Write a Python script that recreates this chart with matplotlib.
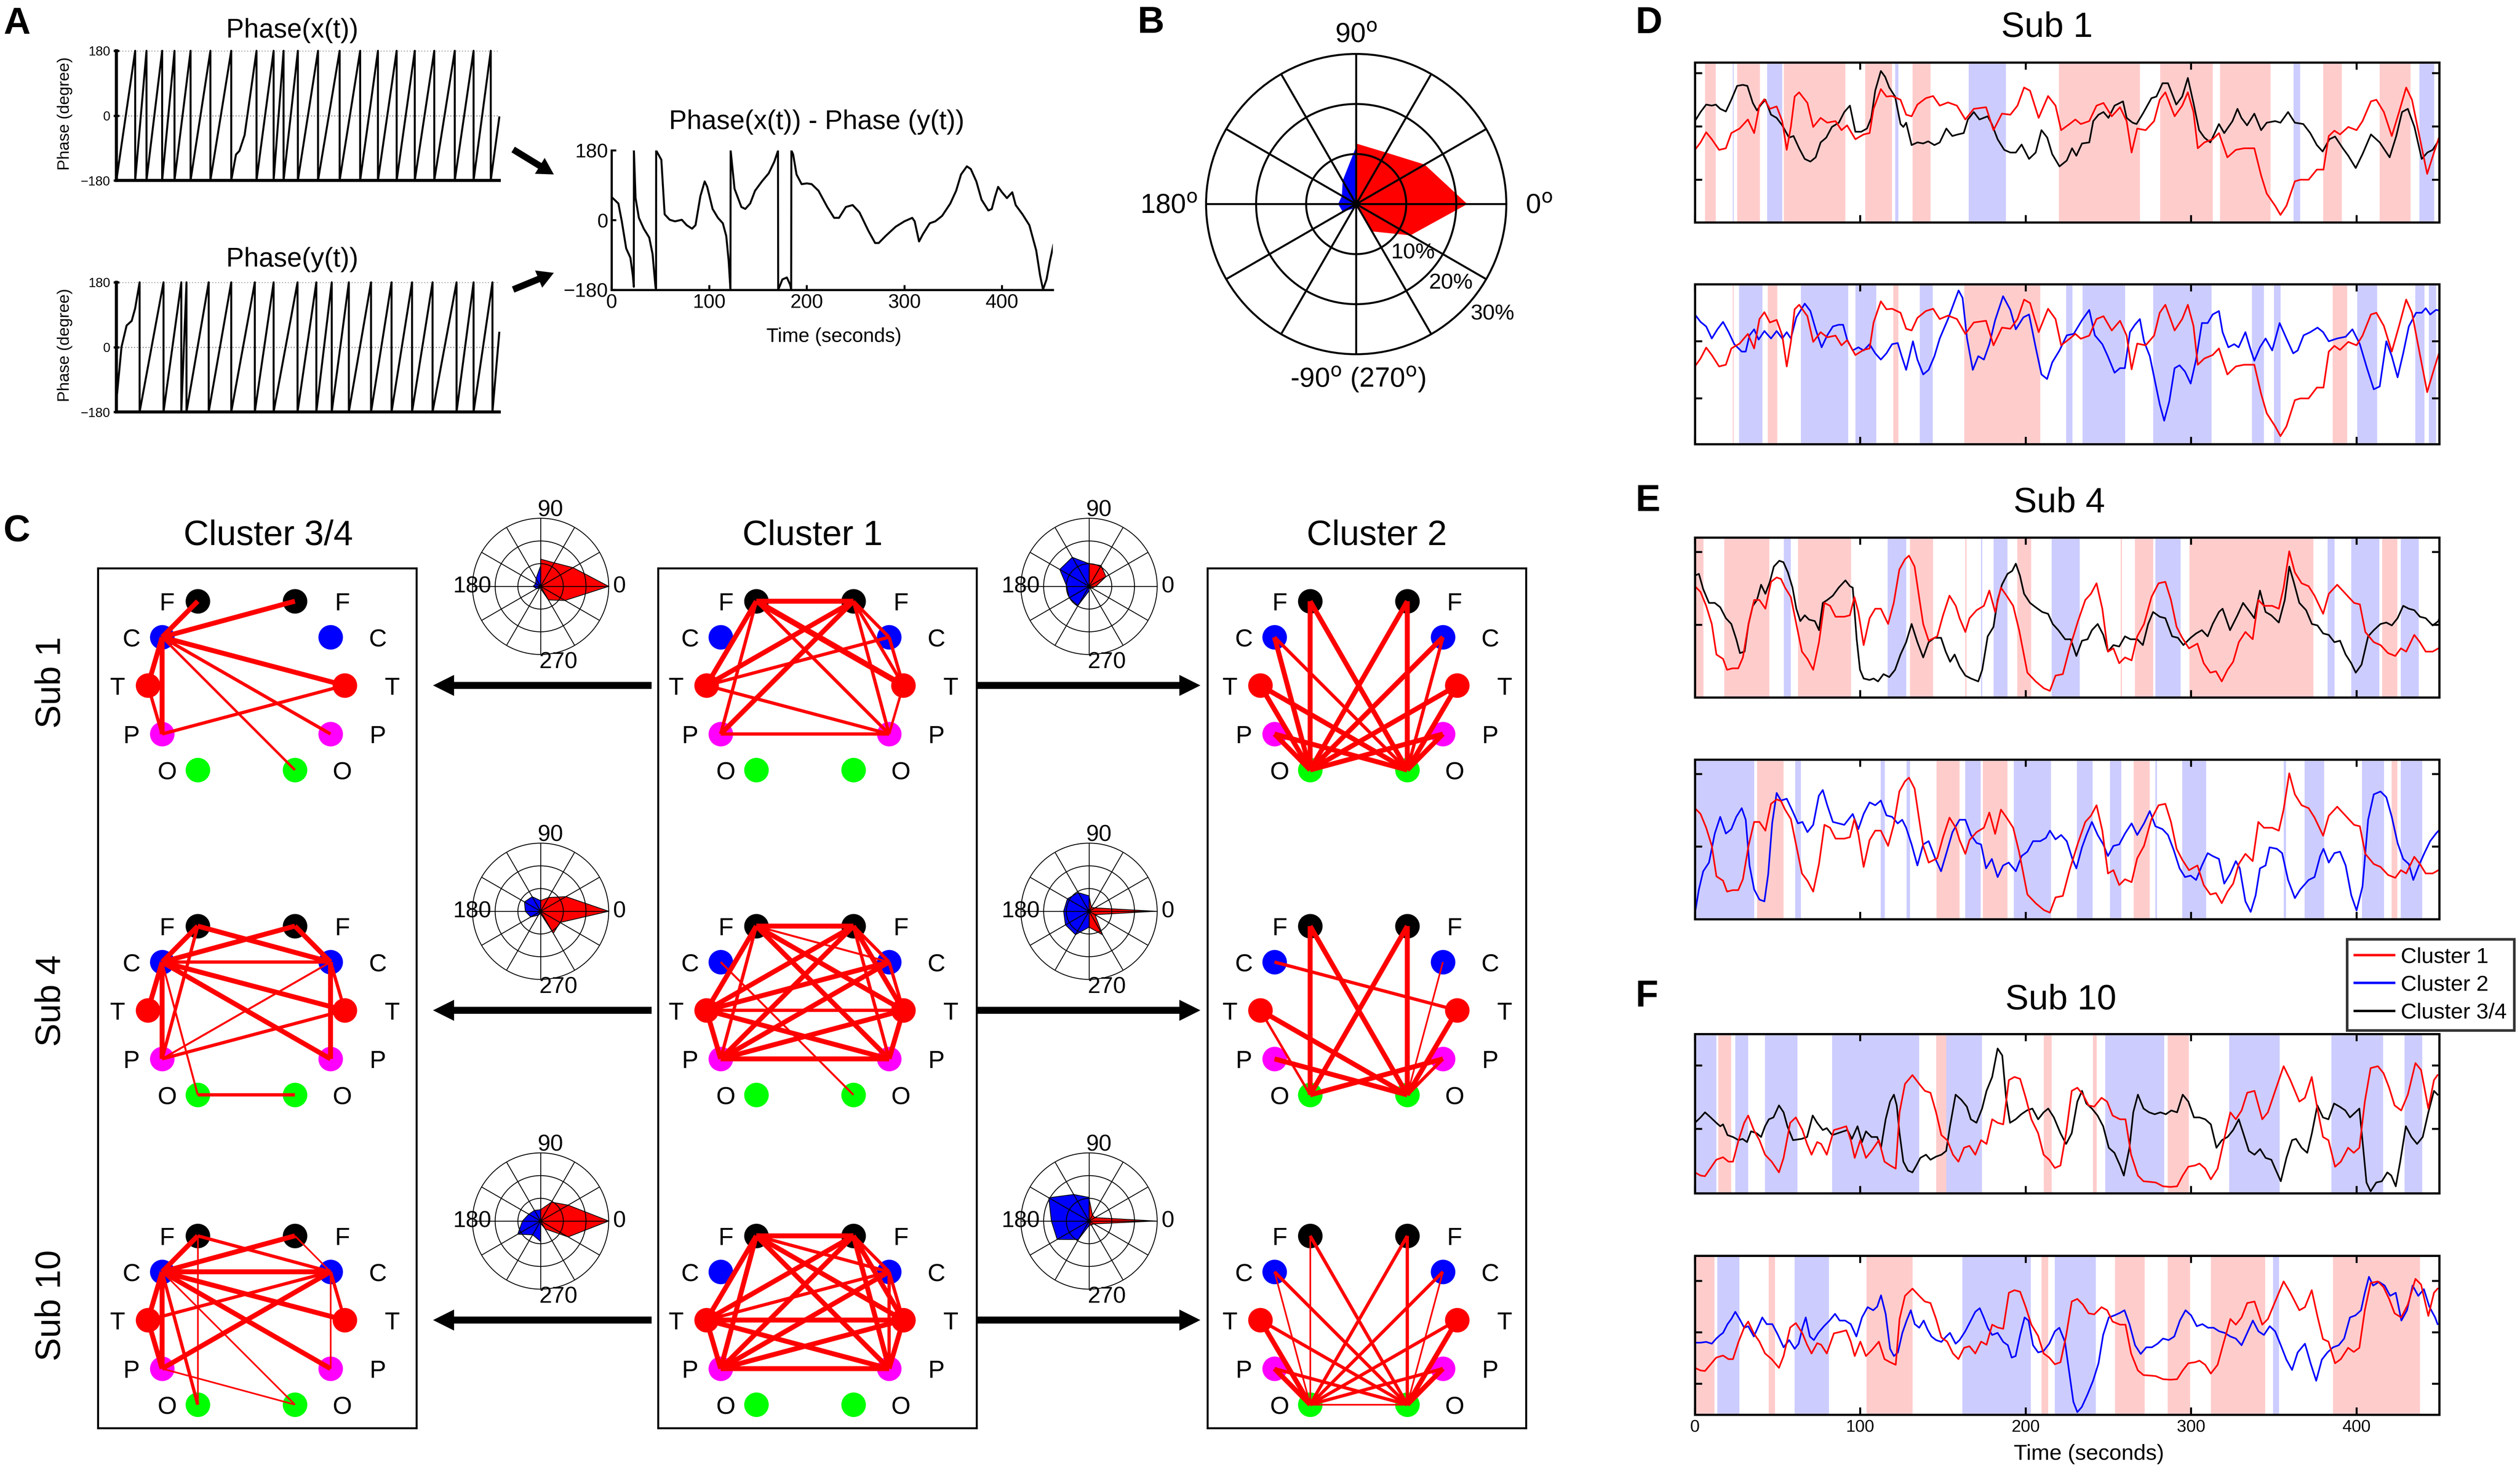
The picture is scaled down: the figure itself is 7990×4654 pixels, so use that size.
import numpy as np
import matplotlib
matplotlib.use("Agg")
import matplotlib.pyplot as plt
from matplotlib.patches import FancyArrowPatch
from matplotlib.lines import Line2D

W, H, DPI = 7990, 4654, 500
NARROW = ["Liberation Sans Narrow", "Liberation Sans", "DejaVu Sans"]
REGULAR = ["Liberation Sans", "DejaVu Sans"]
plt.rcParams["font.family"] = NARROW
plt.rcParams["mathtext.fontset"] = "custom"
plt.rcParams["mathtext.rm"] = "Liberation Sans Narrow"

# ---------------- data: panel A ----------------
phase_x_start = [(0, -180)]
phase_x_wraps = [22.1, 35.4, 53.8, 68.3, 87.2, 110.5, 135, 164.7, 184.8, 196.5, 213.3, 237,
                 262.4, 286.5, 307.4, 329.4, 350.7, 373.6, 397.7, 419.8, 440]
phase_x_kinks = [(140.6, -108), (144.6, -98), (150.7, -54)]
phase_x_end = (450, -5)

phase_y_start = [(0, -150), (3, -75), (6, 0), (12, 60), (18, 73), (22, 107)]
phase_y_wraps = [27.3, 55.4, 76.3, 82.4, 108.5, 135, 162.7, 184.8, 212.9, 235, 253.1, 273.2,
                 299.3, 323.4, 347.5, 371.6, 399.8, 419.8, 442]
phase_y_kinks = []
phase_y_end = (450, 40)

phase_diff = np.array([
    [0, 60], [7, 43], [10.5, -3], [15, -73], [19.3, -97], [21.8, -143], [22.8, -172], [22.9, 180],
    [24.6, 57], [28, 6], [33, -22], [38.6, -45], [42, -87], [45, -172], [45.6, -180], [45.7, 180],
    [51, 156], [54.4, 15], [59.6, 1], [65, -3], [72, 1], [77, -13], [82.5, -22], [86, -13], [91, 62],
    [95.4, 100], [98, 86], [103.5, 29], [109, 6], [114, -8], [117.5, -41], [120, -106], [121.8, -180],
    [122, 180], [126, 81], [133, 34], [137, 29], [142, 43], [147, 76], [154, 100], [161, 121],
    [166.7, 151], [170.5, 179], [170.7, -180], [175, -153], [179.6, -148], [183, -167], [184, -180],
    [184.2, 180], [186, 170], [189.5, 118], [194.7, 93], [200, 95], [205, 93], [212, 76], [221, 34],
    [228, 6], [233, 6], [240, 34], [247, 39], [254, 20], [263, -27], [270, -59], [273.7, -59],
    [280.7, -41], [291, -17], [300, -3], [308, 6], [310.5, -3], [315, -55], [319, -36], [326, -8],
    [331.6, -3], [338.6, 11], [347, 43], [353, 76], [358, 118], [364, 139], [368, 132], [373.7, 100],
    [379, 53], [386, 25], [389.5, 29], [393, 62], [396, 86], [400, 72], [405, 57], [410.5, 72],
    [414, 39], [421, 15], [428, -13], [435, -78], [439, -143], [442, -179], [445.6, -153],
    [449, -106], [452.6, -64]])

# ---------------- data: panel B and small roses ----------------
red_ang = [90, 60, 30, 0, -30, -60, -90]
blue_ang = [90, 120, 150, 180, 210, 240, 270]
b_red_r = [12.1, 11.9, 15.8, 22.2, 12.5, 6.3, 0.5]
b_blue_r = [11.5, 5.4, 3.3, 3.6, 3.1, 1.0, 0.3]

rose_red = {
    (0, 0): [12, 12, 16.5, 30, 12.4, 6.9, 1],
    (0, 1): [10, 10.6, 8.6, 3, 1.5, 1, 0.5],
    (1, 0): [4.7, 7, 12.9, 30, 9.9, 11.2, 1],
    (1, 1): [6.8, 2, 3, 29.4, 3, 12, 7],
    (2, 0): [5, 9.6, 14, 30, 14, 4, 1],
    (2, 1): [9.9, 3, 3, 29.5, 2.5, 2, 2],
}
rose_blue = {
    (0, 0): [9, 4, 2.5, 3.3, 2, 1, 0.5],
    (0, 1): [10, 14.8, 14.9, 9.8, 10.1, 9.8, 2],
    (1, 0): [4.7, 7.4, 8.2, 6.7, 5, 2, 1],
    (1, 1): [6.8, 9.5, 11, 11.2, 12, 11.9, 7],
    (2, 0): [5, 5.4, 6, 8, 11.6, 7, 9],
    (2, 1): [10.4, 13.5, 20.5, 16.6, 16.2, 9.4, 2],
}

# ---------------- data: panel C networks (node a, node b, strength) ----------------
net_sub1_c34 = [("FL", "CL", 3), ("FR", "CL", 3), ("CL", "TL", 3), ("CL", "PL", 3), ("CL", "TR", 3),
                ("CL", "PR", 2), ("CL", "OR", 1.5), ("TL", "PL", 2), ("PL", "TR", 2)]
net_sub1_c1 = [("FL", "FR", 3), ("FL", "TL", 3), ("FL", "PL", 2), ("FL", "TR", 3.5), ("FL", "PR", 2),
               ("FR", "TL", 3), ("FR", "PL", 3), ("FR", "PR", 2), ("FR", "CR", 2), ("FR", "TR", 2),
               ("CR", "TR", 2), ("CR", "TL", 2), ("TL", "PR", 2), ("PL", "PR", 2), ("TR", "PR", 1.5)]
net_sub1_c2 = [("FL", "OL", 3), ("FL", "OR", 3), ("FR", "OL", 3), ("FR", "OR", 3), ("CL", "OL", 3),
               ("CL", "OR", 2), ("CR", "OL", 3), ("CR", "OR", 2), ("TL", "OL", 3), ("TL", "OR", 3),
               ("TR", "OL", 3), ("TR", "OR", 3), ("PL", "OL", 3), ("PL", "OR", 3), ("PR", "OL", 3),
               ("PR", "OR", 3)]
net_sub4_c34 = [("FL", "CL", 3), ("FL", "CR", 3), ("FR", "CL", 3), ("FR", "CR", 3), ("CL", "CR", 2),
                ("CL", "TL", 3), ("CL", "PL", 3), ("CL", "TR", 3), ("CL", "PR", 3), ("FL", "PL", 2),
                ("CL", "OL", 1.2), ("CR", "PL", 1.2), ("CR", "PR", 3), ("CR", "TR", 2), ("TR", "PL", 2),
                ("OL", "OR", 2)]
net_sub4_c1 = [("FL", "FR", 3), ("FL", "TL", 3), ("FL", "PL", 2), ("FL", "TR", 3), ("FL", "PR", 3),
               ("FL", "CR", 1.2), ("FR", "TL", 3), ("FR", "PL", 3), ("FR", "CR", 2), ("FR", "TR", 3),
               ("FR", "PR", 2), ("CR", "TL", 3), ("CR", "PL", 3), ("CR", "TR", 2), ("TL", "TR", 2),
               ("TL", "PL", 3), ("TL", "PR", 3), ("TR", "PL", 3), ("TR", "PR", 3), ("PL", "PR", 3),
               ("CL", "OR", 1.2)]
net_sub4_c2 = [("FL", "OL", 3), ("FL", "OR", 3), ("FR", "OL", 3), ("FR", "OR", 3), ("CL", "TR", 2),
               ("CR", "OR", 1), ("TL", "OL", 1.5), ("TL", "OR", 3), ("TR", "OR", 3), ("PL", "OR", 3),
               ("PR", "OL", 3), ("PR", "OR", 2)]
net_sub10_c34 = [("FL", "CL", 3), ("FL", "OL", 1), ("FL", "CR", 2), ("FR", "CL", 3), ("FR", "CR", 1),
                 ("CL", "CR", 3), ("CL", "TL", 3), ("CL", "PL", 3), ("CL", "TR", 3), ("CL", "PR", 3),
                 ("CL", "OL", 2), ("CL", "OR", 1), ("CR", "PL", 3), ("CR", "TL", 2), ("CR", "PR", 1),
                 ("CR", "TR", 2), ("PL", "OR", 1), ("TL", "PL", 3)]
net_sub10_c1 = [("FL", "FR", 3), ("FL", "TL", 3), ("FL", "PL", 3), ("FL", "TR", 3), ("FL", "PR", 3),
                ("FL", "CR", 2), ("FR", "TL", 3), ("FR", "PL", 3), ("FR", "TR", 3), ("FR", "PR", 3),
                ("FR", "CR", 2), ("CR", "TL", 2), ("CR", "PL", 3), ("CR", "TR", 2), ("CR", "PR", 2),
                ("TL", "TR", 3), ("TL", "PL", 3), ("TL", "PR", 3), ("TR", "PL", 3), ("TR", "PR", 3),
                ("PL", "PR", 3)]
net_sub10_c2 = [("FL", "OL", 1), ("FL", "OR", 2), ("FR", "OL", 2), ("FR", "OR", 2), ("CL", "OL", 1),
                ("CL", "OR", 2), ("CR", "OL", 2), ("CR", "OR", 1), ("TL", "OL", 3), ("TL", "OR", 2),
                ("TR", "OL", 2), ("TR", "OR", 3), ("PL", "OL", 3), ("PL", "OR", 2), ("PR", "OL", 2),
                ("PR", "OR", 3), ("OL", "OR", 1)]

# ---------------- data: panels D-F (time s, value) ----------------
sub1_red = np.array([
    [0, -0.44], [3.4, -0.30], [6.8, -0.11], [10.2, -0.24], [14.6, -0.44], [18.7, -0.41], [22, -0.125],
    [27, -0.04], [32, 0.13], [35.8, -0.125], [39, 0.39], [42, 0.51], [45.3, 0.33], [49.4, 0.375],
    [52.8, 0.10], [55.5, -0.44], [58, -0.01], [60.3, 0.56], [63, 0.64], [68, 0.44], [71.5, -0.01],
    [76, 0.16], [80, 0.07], [85, 0.10], [88.6, -0.07], [92, 0.02], [97, -0.24], [102, -0.15],
    [105.6, -0.125], [108, 0.33], [112.4, 0.70], [115.8, 0.56], [119.2, 0.57], [124.3, 0.50],
    [127.7, 0.22], [131, 0.19], [134.5, 0.41], [139.6, 0.53], [144, 0.57], [148, 0.39], [153, 0.45],
    [158.4, 0.39], [163.5, 0.13], [168.6, 0.33], [176, 0.36], [180.5, -0.07], [185.6, 0.24],
    [190.7, 0.22], [195, 0.39], [199, 0.73], [202.6, 0.67], [207.8, 0.16], [213.5, 0.57], [218, 0.39],
    [221.4, -0.07], [226.5, 0.045], [230, 0.13], [233.3, 0.045], [238.4, 0.10], [242.8, 0.39],
    [247, 0.44], [252, 0.19], [257, 0.36], [261, 0.10], [264, -0.49], [267.4, -0.04], [272.5, -0.07],
    [277.6, 0.10], [281, 0.50], [284.4, 0.64], [290, 0.19], [294.6, 0.39], [298, 0.64], [301.4, 0.27],
    [304, -0.41], [308, -0.30], [313, -0.24], [316.8, -0.125], [321.9, -0.58], [327, -0.44],
    [332, -0.41], [338.2, -0.41], [342.3, -0.92], [345.7, -1.26], [350.8, -1.49], [354, -1.66],
    [357.6, -1.49], [362.7, -1.03], [366, -1.0], [371, -1.0], [376, -0.81], [380, -0.81],
    [383.2, -0.18], [386.6, -0.08], [390, -0.15], [395, -0.01], [400, -0.07], [403.6, 0.10],
    [408.7, 0.47], [412, 0.50], [416.5, 0.27], [421.3, -0.18], [425.7, 0.27], [430, 0.73],
    [433.5, 0.50], [437.6, -0.125], [442.7, -0.89], [447, -0.47], [452, -0.01]])
sub1_black = np.array([
    [0, 0.10], [3.4, 0.27], [6.8, 0.41], [10.2, 0.39], [12.6, 0.41], [15.3, 0.33], [18.7, 0.28],
    [22, 0.50], [25.5, 0.76], [29, 0.78], [31.7, 0.76], [35, 0.44], [37.5, 0.30], [40, 0.41],
    [42.6, 0.50], [46, 0.22], [49.4, 0.16], [52.8, 0.02], [56.9, -0.21], [59.6, -0.18], [63, -0.41],
    [66.4, -0.61], [69.8, -0.66], [73, -0.58], [76, -0.30], [79.4, -0.21], [82.8, -0.01], [87, 0.07],
    [90.3, 0.27], [93.7, 0.39], [97, -0.10], [100.5, -0.10], [104, -0.04], [106.6, 0.16], [109, 0.67],
    [112.4, 1.04], [115, 0.93], [117.5, 0.73], [121, 0.56], [124.3, 0.045], [126, -0.01],
    [127.7, 0.07], [131, -0.35], [134.5, -0.30], [138, -0.32], [141, -0.28], [144.8, -0.35],
    [148, -0.30], [152, -0.04], [155.6, -0.18], [159, -0.15], [162.5, -0.125], [165, 0.13],
    [168.6, 0.27], [172, 0.13], [177, 0.19], [179.5, 0.045], [183, -0.24], [187, -0.44],
    [190.7, -0.49], [194, -0.49], [197.5, -0.34], [202, -0.61], [206, -0.49], [209.5, -0.07],
    [213, -0.21], [216, -0.52], [220.4, -0.75], [224.8, -0.64], [228, -0.41], [230.6, -0.55],
    [234, -0.32], [238.4, -0.30], [240.8, 0.10], [244, 0.22], [247, 0.27], [250, 0.16], [253.7, 0.39],
    [258.8, 0.47], [261, 0.16], [264.6, 0.07], [267, 0.045], [270.8, 0.24], [276, 0.53], [279, 0.56],
    [282.7, 0.81], [286, 0.81], [291, 0.41], [294.6, 0.56], [298, 0.91], [301.4, 0.44], [304.8, -0.07],
    [308, -0.21], [311.6, -0.30], [316.8, 0.045], [320, -0.125], [325, 0.10], [328, 0.33],
    [330.4, 0.16], [333.8, 0.02], [338.2, 0.24], [342.3, -0.07], [345.7, 0.07], [350.8, 0.10],
    [354, 0.07], [358.6, 0.27], [362.7, 0.07], [367.8, 0.045], [372, -0.125], [376, -0.35],
    [379.5, -0.47], [383.6, -0.24], [387, -0.19], [391.7, -0.41], [395, -0.55], [399.5, -0.78],
    [403.6, -0.52], [408.7, -0.15], [414, -0.30], [420, -0.58], [424, -0.18], [427.5, 0.27],
    [431, 0.33], [435, -0.01], [439.4, -0.61], [442.8, -0.49], [446, -0.44], [449.5, -0.27],
    [452, -0.125]])
sub1_blue = np.array([
    [0, 0.47], [3.4, 0.34], [6.8, 0.26], [10.2, 0.05], [13.6, 0.21], [17, 0.34], [20.4, 0.16],
    [23.8, -0.05], [28.3, -0.18], [30.7, -0.18], [33, 0.105], [35.8, 0.21], [38.5, 0.03], [42, 0.18],
    [46, 0.05], [49.4, 0.18], [52.8, 0.05], [55.5, 0.16], [58, 0.05], [61.3, 0.42], [66.4, 0.66],
    [69.8, 0.53], [73, 0.21], [76.6, -0.105], [80, 0.105], [83.4, 0.26], [86.9, 0.29], [89.6, 0.29],
    [92, 0.03], [95.4, -0.16], [98.8, -0.105], [102, -0.16], [105.6, -0.05], [109, -0.21],
    [112.4, -0.32], [115.8, -0.21], [119.2, -0.05], [122.6, -0.03], [125, -0.26], [127.7, -0.50],
    [131.8, 0.0], [134.5, -0.32], [138, -0.58], [141.3, -0.50], [144.8, -0.26], [148, 0.05],
    [153, 0.39], [156.7, 0.68], [159.4, 0.89], [161.8, 0.76], [164.5, 0.05], [168, -0.50],
    [171.3, -0.26], [174.7, -0.32], [178, -0.05], [181.5, 0.37], [186.3, 0.79], [190.7, 0.55],
    [194, 0.21], [198.6, 0.42], [202, 0.47], [206, -0.105], [209.5, -0.58], [212.9, -0.66],
    [216, -0.37], [220.4, -0.16], [224.8, 0.105], [229, 0.13], [234, 0.37], [238.4, 0.55],
    [241.8, 0.105], [246.3, -0.05], [249.6, -0.26], [253.7, -0.55], [257, -0.47], [259.9, -0.47],
    [263, 0.16], [266, 0.29], [269, 0.39], [271.5, 0.0], [275, -0.26], [278, -0.68], [281, -1.1],
    [283.7, -1.39], [286.8, -1.05], [290, -0.47], [293, -0.42], [296.3, -0.53], [299.7, -0.74],
    [303, -0.32], [306.5, 0.32], [310, 0.32], [313, 0.47], [316.8, 0.53], [319, 0.16], [322.5, -0.105],
    [326, -0.05], [328.7, -0.105], [332.8, 0.16], [335.5, -0.105], [338.2, -0.34], [341.6, -0.105],
    [345, 0.05], [349, -0.16], [353.5, 0.32], [357.6, 0.05], [361.7, -0.21], [364.4, -0.16],
    [368, 0.105], [372, 0.16], [376.4, 0.24], [379.8, 0.16], [383.2, 0.0], [388.3, 0.05],
    [393.4, 0.08], [397.5, 0.21], [402, -0.05], [406.3, -0.47], [410.4, -0.84], [414, -0.79],
    [418, 0.0], [421.3, -0.26], [424.8, -0.63], [428.2, -0.21], [431.6, 0.26], [436, 0.50],
    [439.4, 0.50], [441.8, 0.58], [444.5, 0.47], [448, 0.55], [452, 0.53]])

sub4_red = np.array([
    [0, 0.53], [3.4, 0.45], [6.8, 0.26], [10.2, 0.01], [13, -0.41], [17, -0.47], [19.4, -0.62],
    [22.8, -0.60], [26.2, -0.60], [29, -0.45], [32.4, 0.01], [35.8, 0.34], [39, 0.34], [42.6, 0.22],
    [46, 0.59], [49.4, 0.65], [52, 0.63], [54.5, 0.51], [58, 0.38], [61.3, 0.01], [64.7, -0.37],
    [68, -0.47], [71.5, -0.62], [75, -0.24], [78.3, 0.30], [81.7, 0.26], [85, 0.11], [90.3, 0.11],
    [93.7, 0.13], [96.4, 0.38], [98.8, 0.175], [102, -0.28], [105.6, 0.09], [109, 0.22], [112.4, 0.22],
    [116.8, 0.01], [120.2, 0.30], [123.6, 0.76], [127, 0.90], [129.4, 0.95], [132.8, 0.80],
    [135.2, 0.43], [138, 0.01], [141.3, -0.22], [146.5, -0.16], [150, 0.13], [153.9, 0.40],
    [157.7, 0.26], [160, 0.09], [163.5, -0.10], [166, 0.09], [170.3, 0.20], [174.7, 0.26], [178, 0.47],
    [181.5, 0.175], [185, 0.51], [188.4, 0.40], [192.4, 0.26], [196, -0.075], [201, -0.66],
    [206, -0.78], [211, -0.875], [214.6, -0.91], [218, -0.70], [222.4, -0.68], [226.5, -0.325],
    [231.6, 0.05], [236, 0.34], [239.4, 0.425], [242.8, 0.57], [246.3, 0.22], [249.7, -0.37],
    [253, -0.325], [256.5, -0.53], [260, -0.45], [264, -0.49], [267.4, -0.16], [271.5, 0.01],
    [276, 0.38], [280.3, 0.57], [284.4, 0.59], [287.8, 0.34], [291.2, -0.03], [294.6, -0.18],
    [298.7, -0.325], [303.8, -0.26], [307.6, -0.53], [311.6, -0.66], [315, -0.64], [318.5, -0.78],
    [322, -0.62], [325.4, -0.51], [328.8, -0.24], [332.8, -0.10], [337.2, -0.20], [340.6, 0.34],
    [344, 0.26], [349, 0.26], [353, 0.22], [355.9, 0.51], [359.3, 1.01], [362.7, 0.72], [366.8, 0.57],
    [371, 0.53], [374.6, 0.40], [379.8, 0.15], [383.2, 0.425], [388.3, 0.55], [393.4, 0.425],
    [398.5, 0.30], [402, 0.28], [405.3, -0.10], [410.4, -0.24], [414.5, -0.28], [419, -0.39],
    [423.4, -0.43], [426.8, -0.325], [430, -0.37], [434.9, -0.14], [438.3, -0.24], [441.8, -0.37],
    [446, -0.37], [449.5, -0.325], [452, -0.30]])
sub4_black = np.array([
    [0, 0.675], [2.4, 0.70], [5, 0.49], [8.5, 0.30], [12, 0.30], [15.3, 0.24], [18.7, 0.09], [22, 0.01],
    [25, -0.20], [27.2, -0.39], [30, -0.37], [32.4, 0.01], [35, 0.26], [37.5, 0.34], [40, 0.55],
    [42.6, 0.425], [45.3, 0.59], [47.7, 0.80], [51, 0.88], [53.5, 0.86], [56.2, 0.72], [59, 0.51],
    [61.3, 0.22], [63.7, 0.05], [66.4, 0.13], [69, 0.07], [72.5, 0.05], [75, -0.075], [77.3, 0.30],
    [80, 0.34], [83.4, 0.40], [86.9, 0.51], [91, 0.61], [93.7, 0.53], [95.4, 0.51], [97.8, -0.20],
    [99.8, -0.62], [102, -0.74], [105.6, -0.76], [108, -0.74], [110.7, -0.78], [114, -0.68],
    [117.5, -0.72], [121, -0.62], [124.3, -0.41], [127.7, -0.24], [131, 0.01], [134.5, -0.24],
    [138, -0.45], [141.3, -0.24], [144.8, -0.18], [148.8, -0.18], [151.6, -0.37], [154.3, -0.51],
    [157, -0.41], [160, -0.575], [163.5, -0.70], [166.9, -0.74], [171.3, -0.78], [173.7, -0.62],
    [177, -0.16], [180.5, -0.03], [183, 0.34], [185.6, 0.55], [189, 0.70], [191.8, 0.74], [194, 0.84],
    [196.5, 0.675], [199, 0.425], [202.6, 0.30], [206, 0.24], [210, 0.175], [213.5, 0.15],
    [216.3, 0.01], [219.7, -0.075], [223.8, -0.20], [227.2, -0.20], [230.6, -0.43], [234, -0.22],
    [237.4, -0.20], [240, -0.075], [243.5, 0.01], [246.9, -0.14], [249.7, -0.37], [253, -0.28],
    [256.5, -0.30], [260, -0.16], [263.3, -0.20], [267.4, -0.20], [270.8, -0.28], [274, 0.01],
    [277, 0.175], [281, 0.11], [284.4, 0.09], [288.5, -0.16], [292, -0.18], [295.3, -0.28],
    [299.7, -0.18], [303, -0.12], [306.5, -0.075], [310, -0.16], [313, 0.01], [316.8, 0.175],
    [319, 0.22], [323.5, -0.075], [328, 0.13], [331.4, 0.30], [335.5, 0.175], [338.2, 0.09],
    [341.6, 0.47], [345, 0.175], [348.4, 0.13], [353, 0.03], [356.6, 0.34], [359.3, 0.80], [362, 0.59],
    [365.4, 0.30], [369.5, 0.20], [373, 0.01], [376.4, -0.01], [379.8, -0.12], [383.2, -0.14],
    [386.6, -0.24], [390, -0.22], [393.4, -0.41], [396.8, -0.53], [399.5, -0.66], [403, -0.55],
    [407, -0.16], [410.4, -0.075], [414.5, 0.01], [418, 0.03], [421.3, -0.01], [424.8, 0.09],
    [428.2, 0.26], [431.6, 0.22], [434.9, 0.20], [438.3, 0.11], [441.8, 0.09], [446, -0.01],
    [449.5, 0.05], [452, 0.26]])
sub4_blue = np.array([
    [0, -0.92], [2.4, -0.59], [5, -0.34], [8.5, -0.22], [12, 0.18], [15.3, 0.41], [18.7, 0.18],
    [22, 0.24], [25, 0.41], [28.3, 0.53], [30.7, 0.37], [33, -0.26], [35.8, -0.59], [39, -0.73],
    [42, -0.755], [44.3, -0.38], [46.7, 0.32], [49.4, 0.74], [52, 0.635], [55.5, 0.66], [59, 0.49],
    [62.3, 0.32], [65, 0.34], [68, 0.20], [71.5, 0.30], [74.9, 0.70], [77.3, 0.78], [80, 0.57],
    [83.4, 0.34], [86.9, 0.32], [90.3, 0.30], [95.4, 0.45], [98.8, 0.24], [102, 0.45], [105.6, 0.61],
    [109, 0.57], [112.4, 0.635], [115.8, 0.43], [119.2, 0.41], [122.6, 0.32], [125.3, 0.37],
    [127.7, 0.26], [131, 0.03], [134.5, -0.26], [138, 0.03], [141.3, 0.075], [145.4, -0.17],
    [148.8, -0.34], [152.3, -0.07], [155.7, 0.20], [160, 0.37], [163.5, 0.37], [166.9, 0.16],
    [170.3, 0.05], [173, 0.03], [176, -0.30], [179.5, -0.17], [183, -0.42], [186.3, -0.26],
    [189.7, -0.22], [194, -0.34], [197.5, -0.13], [201, -0.07], [204.4, 0.075], [208.8, 0.075],
    [212.2, 0.12], [214.6, 0.22], [218, 0.10], [221.4, 0.16], [224.8, 0.075], [228.2, -0.17],
    [230.6, -0.30], [234, -0.01], [236.7, 0.16], [240, 0.34], [243.5, 0.16], [246.9, 0.03],
    [249.7, -0.13], [253, 0.01], [256.5, 0.03], [260, 0.18], [264, 0.32], [267.4, 0.16], [271.5, 0.32],
    [275, 0.49], [278.4, 0.28], [282.7, 0.24], [286, 0.16], [289.5, -0.05], [293, -0.30],
    [296.3, -0.42], [299.7, -0.40], [303, -0.46], [306.5, -0.26], [310, -0.09], [313, -0.13],
    [316.8, -0.17], [320, -0.51], [323.5, -0.38], [327, -0.20], [329.4, -0.30], [332.8, -0.755],
    [336, -0.90], [339, -0.67], [341.6, -0.30], [345, -0.26], [347.4, -0.01], [351.8, -0.03],
    [355, -0.09], [358.6, -0.46], [362.7, -0.71], [366, -0.59], [371, -0.46], [374.6, -0.42],
    [378, -0.13], [380, -0.03], [383.2, -0.22], [386.6, -0.09], [390, -0.07], [393.4, -0.26],
    [396.8, -0.67], [400, -0.88], [403.6, -0.55], [407, 0.37], [410.4, 0.72], [414.5, 0.76],
    [418, 0.68], [421.3, 0.41], [424.8, 0.05], [428.2, -0.17], [431.6, -0.24], [434.3, -0.46],
    [437.7, -0.26], [441, -0.09], [444.5, 0.075], [448, 0.18], [451.3, 0.26]])

sub10_red = np.array([
    [0, -0.69], [3.4, -0.74], [6.1, -0.75], [9.5, -0.62], [12.9, -0.49], [17, -0.45], [20.3, -0.52],
    [23, -0.52], [26.4, -0.18], [29.8, 0.095], [32.2, 0.21], [35.6, -0.02], [39, -0.18], [42.4, -0.41],
    [46.4, -0.52], [50.8, -0.69], [53.6, -0.46], [57.6, 0.095], [61, 0.18], [65, -0.02], [67.8, -0.24],
    [70.5, -0.41], [73.9, -0.21], [76.3, -0.24], [79.7, -0.41], [84, -0.02], [88, 0.01], [91.5, 0.04],
    [94.2, -0.18], [96.6, -0.46], [100, -0.18], [103.4, -0.46], [106.8, -0.35], [111.2, -0.18],
    [114.6, -0.52], [118, -0.58], [121.4, -0.63], [123.7, 0.26], [127, 0.71], [131.5, 0.85],
    [135.6, 0.71], [139, 0.60], [142.4, 0.57], [145.8, 0.26], [149, -0.10], [152.5, -0.18],
    [156, -0.41], [159.3, -0.52], [162.7, -0.30], [166, -0.27], [169.5, -0.41], [173, -0.18],
    [176.3, -0.24], [179.7, 0.15], [183, 0.095], [186.4, 0.07], [189.8, 0.77], [193.2, 0.82],
    [196.6, 0.79], [200, 0.49], [203.4, 0.15], [207.5, -0.07], [210.8, -0.41], [214.2, -0.49],
    [217.6, -0.62], [221, -0.58], [224.4, -0.07], [227.8, 0.60], [231.2, 0.65], [234.6, 0.54],
    [238, 0.37], [241.4, 0.35], [245.8, 0.49], [249.2, 0.43], [252.5, 0.21], [257, 0.15], [260.3, 0.15],
    [263.7, -0.41], [267.8, -0.74], [271.2, -0.83], [275.3, -0.84], [278.6, -0.85], [283, -0.91],
    [287.5, -0.92], [291.5, -0.91], [294.9, -0.74], [298.3, -0.60], [302.4, -0.58], [305, -0.55],
    [308.5, -0.63], [311.9, -0.80], [316, -0.63], [319.3, -0.24], [323.7, 0.26], [327, 0.15],
    [330.5, 0.29], [333.9, 0.57], [338.3, 0.60], [343, 0.15], [346.4, 0.26], [350.8, 0.60],
    [355.9, 0.99], [360, 0.77], [365.4, 0.43], [368.8, 0.49], [372.9, 0.82], [376.3, 0.32],
    [379.7, -0.13], [383, -0.18], [387, -0.60], [390.5, -0.52], [394.9, -0.30], [398.3, -0.38],
    [401.7, -0.30], [405, 0.43], [408.5, 0.96], [412.9, 0.99], [416.3, 0.88], [419.7, 0.65],
    [423, 0.37], [427, 0.29], [431, 0.54], [435.6, 1.04], [439, 0.93], [443.4, 0.32], [446.8, 0.77],
    [449, 0.85]])
sub10_black = np.array([
    [0, 0.095], [3.4, 0.18], [6.1, 0.26], [9.5, 0.18], [12.9, 0.095], [15.3, 0.04], [17, 0.07],
    [19.7, -0.10], [23, -0.13], [26.4, -0.18], [28.8, -0.16], [31.5, -0.21], [33.9, -0.04],
    [37.3, -0.07], [40, -0.13], [42.4, 0.04], [44.7, 0.15], [47.5, 0.18], [50.8, 0.37], [53.6, 0.26],
    [55.9, 0.04], [59.3, -0.18], [64.4, -0.16], [67.8, -0.13], [71.2, 0.21], [73.9, 0.095],
    [77.3, -0.02], [79.7, 0.01], [83, -0.10], [86.4, -0.07], [89.8, -0.04], [92.2, -0.02],
    [94.9, -0.16], [98.3, 0.04], [101, -0.21], [103.4, -0.04], [106.8, -0.13], [110.2, -0.13],
    [112.5, -0.30], [115.3, 0.15], [118, 0.43], [120.3, 0.54], [122, 0.37], [123.7, -0.07],
    [126, -0.52], [128.8, -0.66], [131.5, -0.69], [133.9, -0.58], [136.3, -0.46], [139.7, -0.41],
    [142.4, -0.49], [145.8, -0.44], [149, -0.41], [151.9, -0.35], [154.2, 0.04], [157.6, 0.54],
    [161, 0.46], [164.4, 0.35], [166.8, 0.15], [170.2, 0.095], [173.6, 0.32], [176.3, 0.60],
    [179.7, 0.82], [183, 1.27], [185.8, 1.16], [188.1, 0.49], [190.5, 0.095], [193.9, 0.15],
    [197.3, 0.23], [200.7, 0.29], [204, 0.32], [207.5, 0.15], [210.8, 0.26], [213.6, 0.32], [217, 0.18],
    [221, -0.07], [224.4, -0.24], [227.8, -0.07], [231.2, 0.43], [234, 0.60], [236.6, 0.40],
    [240, 0.32], [243.4, 0.21], [246.8, 0.04], [250.2, -0.30], [253.6, -0.38], [257, -0.58],
    [259.3, -0.74], [262.7, -0.30], [265, 0.26], [267.8, 0.54], [271.2, 0.32], [274.6, 0.26],
    [278, 0.23], [281.4, 0.26], [284.7, 0.23], [288, 0.29], [291.5, 0.26], [294.9, 0.54], [298.3, 0.43],
    [301.7, 0.18], [305, 0.18], [308.5, 0.15], [311.9, 0.07], [315.3, -0.30], [318.6, -0.18],
    [322, -0.13], [325.4, -0.02], [328.8, 0.15], [331.5, -0.07], [334.9, -0.35], [338.3, -0.41],
    [341.7, -0.32], [345, -0.46], [348.5, -0.49], [350.8, -0.63], [354.2, -0.83], [357.6, -0.46],
    [361, -0.18], [363.4, -0.16], [366.8, -0.30], [370.2, -0.38], [373, -0.07], [376.3, 0.37],
    [379.7, 0.18], [383, 0.15], [386.4, 0.40], [389.8, 0.35], [393.2, 0.29], [396, 0.18],
    [399.3, 0.26], [401.7, 0.32], [404, -0.30], [406, -0.85], [408.5, -0.99], [411.9, -0.85],
    [415.3, -0.83], [418.6, -0.69], [421, -0.74], [423.7, -0.91], [426.4, -0.52], [429.8, 0.04],
    [433.2, -0.13], [436.6, -0.24], [440, -0.13], [443.4, 0.26], [446.8, 0.60], [449, 0.54]])
sub10_blue = np.array([
    [0, -0.20], [3.4, -0.20], [6.8, -0.185], [10.2, -0.22], [12.9, -0.12], [15.3, -0.05], [17, -0.01],
    [19.7, 0.16], [22, 0.26], [24.4, 0.40], [27, 0.26], [29.8, 0.09], [32.2, 0.12], [35.6, -0.08],
    [38, 0.09], [40.7, 0.29], [43.4, 0.16], [46.8, 0.16], [50.2, -0.05], [53.6, -0.29], [57, -0.15],
    [60.3, -0.32], [62.7, -0.22], [65, 0.09], [67, 0.29], [69.5, -0.08], [71.9, -0.15], [74.6, -0.01],
    [78, 0.12], [81.4, 0.23], [84.7, 0.36], [87.5, 0.23], [90.8, 0.23], [94.2, 0.16], [97.6, -0.08],
    [101, 0.29], [104.4, 0.49], [107.8, 0.43], [110.2, 0.50], [112.5, 0.72], [115.3, 0.36],
    [118, -0.32], [120.3, -0.46], [122.7, -0.39], [125.4, -0.01], [128, 0.23], [130.5, 0.43],
    [132.9, 0.16], [135.6, 0.09], [138.3, 0.23], [140.7, 0.05], [143, -0.08], [145.8, -0.15],
    [149, -0.185], [151.9, -0.08], [154.2, -0.01], [157.6, -0.22], [160, -0.15], [163.4, 0.02],
    [166.8, 0.23], [169.5, 0.40], [172.2, 0.47], [174.6, 0.29], [177, 0.09], [179.7, -0.05],
    [183, -0.01], [186.4, -0.185], [189.2, -0.25], [191.5, -0.49], [193.9, -0.46], [196.6, -0.05],
    [199.3, 0.29], [201.7, 0.23], [204.4, -0.25], [207.5, -0.39], [210.8, -0.36], [214.2, -0.22],
    [217.6, 0.02], [220.3, 0.09], [223.7, -0.185], [226.4, -0.80], [228.8, -1.35], [231.2, -1.55],
    [233.9, -1.45], [237.3, -1.21], [240.7, -0.94], [244, -0.60], [246.8, -0.05], [250.2, 0.29],
    [253.6, 0.33], [257, 0.38], [259.7, 0.43], [262.7, 0.16], [266.1, -0.25], [269.5, -0.42],
    [272.9, -0.29], [276.3, -0.29], [279.7, -0.22], [283, -0.12], [286.4, -0.15], [289.8, -0.08],
    [293.2, 0.23], [296.6, 0.43], [300, 0.33], [303.4, 0.12], [306.8, 0.16], [310.2, 0.09],
    [313.6, 0.09], [317, 0.02], [320.3, -0.01], [323.7, -0.08], [327, -0.12], [330.5, -0.25],
    [333.9, -0.01], [337.3, 0.23], [340.7, 0.02], [344, -0.05], [347.5, 0.12], [350.8, 0.02],
    [354.2, -0.25], [357.6, -0.53], [361, -0.73], [364.4, -0.39], [368.8, -0.22], [372.2, -0.60],
    [375.6, -0.94], [379, -0.53], [382.4, -0.39], [385.8, -0.29], [389.2, -0.25], [392.5, -0.12],
    [396, 0.29], [399.3, 0.33], [402.7, 0.43], [405, 0.77], [407.5, 1.08], [410, 0.91], [413.6, 0.98],
    [417, 0.91], [420.3, 0.71], [423.7, 0.77], [427.1, 0.23], [430.5, 0.43], [433.9, 0.91],
    [437.3, 0.71], [440.7, 0.84], [444, 0.50], [447.5, 0.29], [449, 0.16]])

# shaded epochs (start s, end s)
d_top_red = [(6.1, 12.6), (25.5, 39.2), (53.8, 90.9), (102.9, 119.2), (131.5, 142.4), (220, 269),
             (281.3, 313), (317.4, 348), (379.8, 391), (414, 432.6)]
d_top_blue = [(22.8, 23.5), (43.6, 52.8), (121, 123), (165.5, 188), (362, 366), (438, 447)]
d_bot_red = [(22.8, 23.5), (44, 49.7), (120, 123), (162.8, 208.8), (385.6, 394.4)]
d_bot_blue = [(26.6, 40.9), (64, 92.6), (97, 109.7), (136, 143.7), (224.5, 228.2), (234.3, 260),
              (277, 312.3), (336.8, 344), (350, 354), (400.5, 412.5), (435.6, 441), (443.8, 448)]
e_top_red = [(0.7, 5.1), (17.7, 45), (62.3, 94.3), (130, 144), (163.5, 164.2), (194.8, 203.3),
             (257.5, 258.2), (266, 277), (299, 374), (415.5, 424.7)]
e_top_blue = [(53.8, 57.9), (116.5, 127.7), (173, 173.7), (180.5, 189), (215.6, 232.6), (278.3, 293.6),
              (382.5, 386.6), (396.8, 413.8), (426.8, 437.7)]
e_bot_red = [(37.5, 53.5), (146, 160), (174, 189), (265.3, 274.9), (421.3, 424.7)]
e_bot_blue = [(0.7, 35.8), (60.6, 64), (112.4, 114.8), (128, 130), (163.5, 172.7), (192.8, 215.3),
              (231, 240.5), (251, 257.8), (278.3, 279.3), (294.6, 309), (356, 357.3), (368.5, 380.4),
              (403.3, 416.6), (426.8, 439.7)]
f_top_red = [(14.2, 22), (145.8, 152), (210.8, 215.6), (240.7, 243), (285.8, 298.6)]
f_top_blue = [(0, 12.9), (24.4, 32.2), (42.4, 62), (83, 135.6), (152, 173.6), (248, 283.7),
              (323, 353.6), (384.7, 416), (429, 439.7)]
f_bot_red = [(0, 11.9), (44.7, 48.5), (103.7, 131.5), (209.5, 213.6), (254, 272), (285.8, 299.3),
             (311.9, 344.7), (385.8, 438.3)]
f_bot_blue = [(13.6, 26.8), (60.3, 81), (161.7, 203), (217.6, 242.4), (349.5, 353.2)]

# ---------------- drawing ----------------
RED, BLUE = "#FF0000", "#0000FF"
SHADE_RED, SHADE_BLUE = "#FFCCCC", "#CCCCFF"

fig = plt.figure(figsize=(W / DPI, H / DPI), dpi=DPI)
fig.patch.set_facecolor("white")


def rect(l, t, r, b):
    return [l / W, 1 - b / H, (r - l) / W, (b - t) / H]


def ftext(x, y, s, **kw):
    return fig.text(x / W, 1 - y / H, s, **kw)


def farrow(x1, y1, x2, y2, tail, hw, hl):
    style = f"simple,head_length={hl},head_width={hw},tail_width={tail}"
    fig.add_artist(FancyArrowPatch((x1 / W, 1 - y1 / H), (x2 / W, 1 - y2 / H),
                                   transform=fig.transFigure, arrowstyle=style,
                                   mutation_scale=1, color="k", lw=0, shrinkA=0, shrinkB=0))


def sawtooth(start, wraps, kinks, end):
    pts = list(start)
    for w in wraps:
        pts += [(w, 180), (w, -180)]
    pts += list(kinks) + [end]
    pts = sorted(pts, key=lambda p: p[0])
    return np.array(pts)


# panel letters
for s, x, y in [("A", 11, 107), ("B", 3606, 104), ("C", 10, 1716), ("D", 5185, 105),
                ("E", 5185, 1620), ("F", 5185, 3191)]:
    ftext(x, y, s, fontsize=17, fontweight="bold", family=REGULAR, ha="left", va="baseline")

# ---- panel A ----
for top, title, title_y, pts_args in [
        (161, "Phase(x(t))", 119, (phase_x_start, phase_x_wraps, phase_x_kinks, phase_x_end)),
        (895, "Phase(y(t))", 845, (phase_y_start, phase_y_wraps, phase_y_kinks, phase_y_end))]:
    ax = fig.add_axes(rect(369, top, 1583, top + 411))
    saw = sawtooth(*pts_args)
    ax.plot(saw[:, 0], saw[:, 1], color="k", lw=0.9, clip_on=False)
    ax.set_xlim(0, 450)
    ax.set_ylim(-180, 180)
    ax.set_yticks([-180, 0, 180])
    ax.set_xticks([])
    ax.yaxis.grid(True, ls=":", color="0.55", lw=0.5)
    for sp in ("top", "right"):
        ax.spines[sp].set_visible(False)
    for sp in ("left", "bottom"):
        ax.spines[sp].set_linewidth(1.4)
    ax.tick_params(axis="y", direction="inout", length=2.5, width=1.0, labelsize=6, pad=1.5)
    ftext(926, title_y, title, fontsize=12.2, ha="center", va="baseline")
    ftext(206, top + 199, "Phase (degree)", fontsize=7.5, family=REGULAR, rotation=90,
          ha="center", va="center")

axd = fig.add_axes(rect(1939, 477, 3338, 919))
axd.plot(phase_diff[:, 0], phase_diff[:, 1], color="k", lw=0.9)
axd.set_xlim(0, 452)
axd.set_ylim(-180, 180)
axd.set_xticks([0, 100, 200, 300, 400])
axd.set_yticks([-180, 0, 180])
for sp in ("top", "right"):
    axd.spines[sp].set_visible(False)
for sp in ("left", "bottom"):
    axd.spines[sp].set_linewidth(1.0)
axd.tick_params(direction="in", length=2.2, width=0.9, labelsize=9, pad=1.6)
ftext(2589, 409, "Phase(x(t)) - Phase (y(t))", fontsize=12.2, ha="center", va="baseline")
ftext(2644, 1084, "Time (seconds)", fontsize=9, ha="center", va="baseline")

farrow(1627, 474, 1756, 553, 3.0, 8.5, 7.5)
farrow(1627, 918, 1756, 865, 3.0, 8.5, 7.5)


# ---- roses ----
def rose(cx, cy, rad, red_r, blue_r, lw, edge):
    ax = fig.add_axes(rect(cx - rad, cy - rad, cx + rad, cy + rad), projection="polar")
    th_r = np.deg2rad([0] + red_ang + [0])
    th_b = np.deg2rad([0] + blue_ang + [0])
    ax.fill(th_r, [0] + list(red_r) + [0], color=RED, lw=edge, ec="k" if edge else RED, zorder=1)
    ax.fill(th_b, [0] + list(blue_r) + [0], color=BLUE, lw=edge, ec="k" if edge else BLUE, zorder=1)
    ax.set_ylim(0, 30)
    ax.set_yticks([10, 20])
    ax.set_xticks(np.deg2rad(np.arange(0, 360, 30)))
    ax.set_xticklabels([])
    ax.set_yticklabels([])
    ax.tick_params(length=0)
    ax.grid(True, color="k", lw=lw, ls="-")
    ax.spines["polar"].set_linewidth(lw)
    ax.set_axisbelow(False)
    return ax


rose(4300, 647, 476, b_red_r, b_blue_r, 0.9, 0)
ftext(4300, 134, r"90$^{\rm o}$", fontsize=12.5, ha="center", va="baseline")
ftext(4837, 676, r"0$^{\rm o}$", fontsize=12.5, ha="left", va="baseline")
ftext(3796, 676, r"180$^{\rm o}$", fontsize=12.5, ha="right", va="baseline")
ftext(4306, 1227, r"-90$^{\rm o}$ (270$^{\rm o}$)", fontsize=12.5, ha="center", va="baseline")
ftext(4480, 819, "10%", fontsize=10, ha="center", va="baseline")
ftext(4600, 916, "20%", fontsize=10, ha="center", va="baseline")
ftext(4732, 1013, "30%", fontsize=10, ha="center", va="baseline")

row_off = [0, 1030, 2012]
rose_cx = [1714, 3453]
for (r, c), rr in rose_red.items():
    cx, cy = rose_cx[c], 1859 + row_off[r]
    rose(cx, cy, 216, rr, rose_blue[(r, c)], 0.4, 0.35)
    kw = dict(fontsize=10.5, family=REGULAR, va="center")
    ftext(cx + 31, cy - 242, "90", ha="center", **kw)
    ftext(cx + 249, cy, "0", ha="center", **kw)
    ftext(cx - 217, cy, "180", ha="center", **kw)
    ftext(cx + 56, cy + 240, "270", ha="center", **kw)

# ---- panel C networks ----
NODE_XY = {"FL": (316, 104), "FR": (624, 104), "CL": (203, 218), "CR": (737, 218),
           "TL": (158, 371), "TR": (782, 371), "PL": (203, 525), "PR": (737, 525),
           "OL": (316, 639), "OR": (624, 639)}
NODE_COL = {"F": "k", "C": BLUE, "T": RED, "P": "#FF00FF", "O": "#00FF00"}
boxes = [(311, 0, "Cluster 3/4", 851, [net_sub1_c34, net_sub4_c34, net_sub10_c34]),
         (2087, -5, "Cluster 1", 2576, [net_sub1_c1, net_sub4_c1, net_sub10_c1]),
         (3829, 9, "Cluster 2", 4365, [net_sub1_c2, net_sub4_c2, net_sub10_c2])]
for left, shift, title, tx, nets in boxes:
    ax = fig.add_axes(rect(left, 1802, left + 1010, 4528))
    ax.set_xlim(0, 1010)
    ax.set_ylim(2726, 0)
    ax.set_xticks([])
    ax.set_yticks([])
    for sp in ax.spines.values():
        sp.set_linewidth(0.9)
    for r, net in enumerate(nets):
        dy = row_off[r]
        for a, b, w in net:
            xa, ya = NODE_XY[a]
            xb, yb = NODE_XY[b]
            ax.plot([xa + shift, xb + shift], [ya + dy, yb + dy], color=RED, lw=0.75 * w,
                    solid_capstyle="butt", zorder=3)
        for name, (x, y) in NODE_XY.items():
            ax.plot(x + shift, y + dy, "o", ms=11.2, mec="none", mfc=NODE_COL[name[0]], zorder=2)
            lx = x + shift + (-97 if name[1] == "L" else 150)
            ax.text(lx, y + dy + 29, name[0], fontsize=11.3, family=REGULAR, ha="center",
                    va="baseline")
    ftext(tx, 1728, title, fontsize=16, ha="center", va="baseline")

for r, lab in enumerate(["Sub 1", "Sub 4", "Sub 10"]):
    ftext(162, [2164, 3173, 4139][r], lab, fontsize=16, family=REGULAR, rotation=90,
          ha="center", va="center")
    yy = 2173 + row_off[r]
    farrow(2066, yy, 1373, yy, 3.2, 9.6, 9.6)
    farrow(3097, yy, 3806, yy, 3.2, 9.6, 9.6)


# ---- panels D-F ----
def trace_axes(top, bottom, ylim, yticks, red_sp, blue_sp, series, labels=False):
    ax = fig.add_axes(rect(5374, top, 7734, bottom))
    for a, b in red_sp:
        ax.axvspan(a, b, color=SHADE_RED, lw=0, zorder=0)
    for a, b in blue_sp:
        ax.axvspan(a, b, color=SHADE_BLUE, lw=0, zorder=0)
    for data, col in series:
        ax.plot(data[:, 0], data[:, 1], color=col, lw=0.75, zorder=2)
    ax.set_xlim(0, 450)
    ax.set_ylim(*ylim)
    ax.set_xticks([0, 100, 200, 300, 400])
    ax.set_yticks(yticks)
    ax.tick_params(direction="in", top=True, right=True, length=3.3, width=0.9,
                   labelbottom=labels, labelleft=False, labelsize=7.8, pad=2.2)
    for sp in ax.spines.values():
        sp.set_linewidth(1.0)
    return ax


trace_axes(198, 705, (-1.8, 1.2), [-1, 0, 1], d_top_red, d_top_blue,
           [(sub1_black, "k"), (sub1_red, RED)])
trace_axes(901, 1408, (-1.8, 1.0), [-1, 0], d_bot_red, d_bot_blue,
           [(sub1_blue, BLUE), (sub1_red, RED)])
trace_axes(1704, 2211, (-1.0, 1.2), [0, 1], e_top_red, e_top_blue,
           [(sub4_black, "k"), (sub4_red, RED)])
trace_axes(2408, 2914, (-1.0, 1.2), [0, 1], e_bot_red, e_bot_blue,
           [(sub4_blue, BLUE), (sub4_red, RED)])
trace_axes(3278, 3783, (-1.02, 1.5), [0, 1], f_top_red, f_top_blue,
           [(sub10_black, "k"), (sub10_red, RED)])
trace_axes(3981, 4485, (-1.6, 1.49), [-1, 0, 1], f_bot_red, f_bot_blue,
           [(sub10_blue, BLUE), (sub10_red, RED)], labels=True)

ftext(6490, 117, "Sub 1", fontsize=16, ha="center", va="baseline")
ftext(6529, 1624, "Sub 4", fontsize=16, ha="center", va="baseline")
ftext(6534, 3200, "Sub 10", fontsize=16, ha="center", va="baseline")
ftext(6623, 4628, "Time (seconds)", fontsize=10, ha="center", va="baseline")

handles = [Line2D([], [], color=RED, lw=1.1), Line2D([], [], color=BLUE, lw=1.1),
           Line2D([], [], color="k", lw=1.1)]
leg = fig.legend(handles, ["Cluster 1", "Cluster 2", "Cluster 3/4"], loc="upper right",
                 bbox_to_anchor=(7972 / W, 1 - 2978 / H), fontsize=10, frameon=True,
                 fancybox=False, edgecolor="k", handlelength=1.8, handletextpad=0.3,
                 labelspacing=0.35, borderpad=0.35, borderaxespad=0)
leg.get_frame().set_linewidth(1.2)

fig.savefig("out.png", dpi=DPI, facecolor="white")
